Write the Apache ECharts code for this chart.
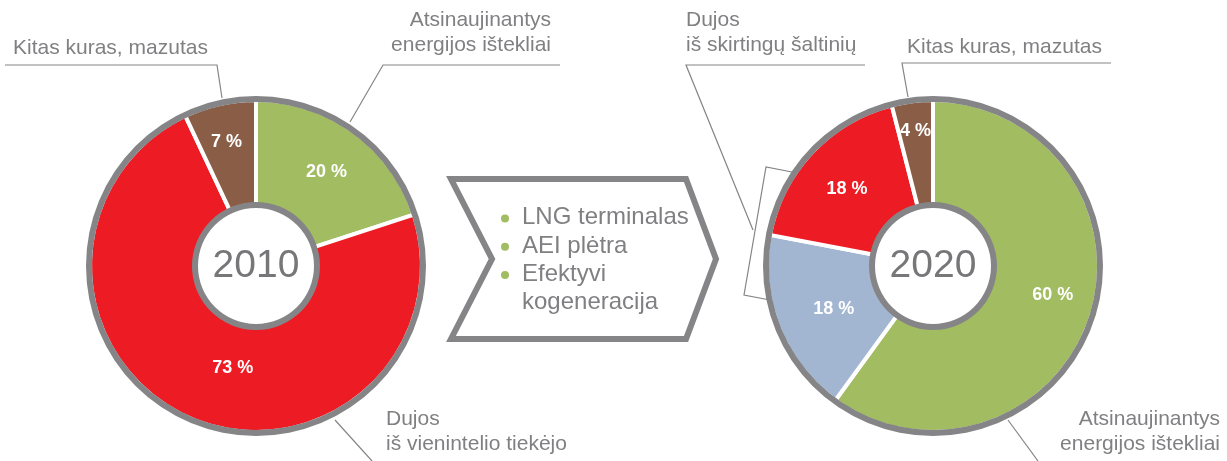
<!DOCTYPE html>
<html><head><meta charset="utf-8">
<script src="https://cdn.jsdelivr.net/npm/echarts@6/dist/echarts.min.js"></script>
<style>html,body{margin:0;padding:0;background:#fff}#c{width:1227px;height:461px}</style>
</head><body><div id="c"></div>
<script>
// ---- data ----
const categories2010 = ['Atsinaujinantys energijos ištekliai', 'Dujos iš vienintelio tiekėjo', 'Kitas kuras, mazutas'];
const values2010 = [20, 73, 7];
const categories2020 = ['Atsinaujinantys energijos ištekliai', 'Dujos (SGD)', 'Dujos iš skirtingų šaltinių', 'Kitas kuras, mazutas'];
const values2020 = [60, 18, 18, 4];
const years = ['2010', '2020'];
const measures = ['LNG terminalas', 'AEI plėtra', 'Efektyvi', 'kogeneracija'];
const calloutTexts = [
  ['Kitas kuras, mazutas'],
  ['Atsinaujinantys', 'energijos ištekliai'],
  ['Dujos', 'iš vienintelio tiekėjo'],
  ['Dujos', 'iš skirtingų šaltinių'],
  ['Kitas kuras, mazutas'],
  ['Atsinaujinantys', 'energijos ištekliai']
];

// ---- styles ----
const FONT = '"Liberation Sans", Arial, sans-serif';
const GRAY = '#858588';
const TEXT = '#808083';
const colorMap = {
  'Atsinaujinantys energijos ištekliai': '#a2bc62',
  'Dujos iš vienintelio tiekėjo': '#ed1c24',
  'Dujos (SGD)': '#a3b6d1',
  'Dujos iš skirtingų šaltinių': '#ed1c24',
  'Kitas kuras, mazutas': '#8a5e46'
};
// label nudges [dx, dy], index-matched to slices
const nudge2010 = [[2, 0], [23, -5], [-4, -10]];
const nudge2020 = [[9, -7], [9, 0], [-1, 3], [-3, -19]];

function donut(center, cats, vals, year, nudges) {
  return [
    {
      type: 'pie', center: center, radius: [61, 166], z: 2,
      startAngle: 90, clockwise: true, animation: false,
      emphasis: { disabled: true }, silent: true,
      itemStyle: { borderColor: '#fff', borderWidth: 4 },
      label: {
        show: true, position: 'inside', formatter: '{c} %',
        color: '#fff', fontFamily: FONT, fontWeight: 'bold', fontSize: 18
      },
      labelLine: { show: false },
      labelLayout: function (p) {
        const n = nudges[p.dataIndex] || [0, 0];
        return { dx: n[0], dy: n[1] };
      },
      data: cats.map((c, i) => ({ name: c, value: vals[i], itemStyle: { color: colorMap[c] } }))
    },
    {
      type: 'pie', center: center, radius: [164, 170], z: 3, silent: true,
      animation: false, emphasis: { disabled: true },
      label: { show: false }, labelLine: { show: false },
      itemStyle: { color: GRAY }, data: [{ value: 1, name: 'ring' }]
    },
    {
      type: 'pie', center: center, radius: [58, 64], z: 3, silent: true,
      animation: false, emphasis: { disabled: true },
      label: {
        show: true, position: 'center', formatter: year,
        color: '#77777a', fontFamily: FONT, fontSize: 39
      },
      labelLine: { show: false },
      itemStyle: { color: GRAY }, data: [{ value: 1, name: year }]
    }
  ];
}

const lineStyle = { stroke: GRAY, lineWidth: 1.2, fill: null };
const leaders = [
  [[5, 65], [217, 65], [222, 98]],
  [[560, 65], [383, 65], [350, 122]],
  [[335, 420], [372, 461]],
  [[865, 65], [686, 65], [753, 230]],
  [[792, 172], [766, 167], [744, 295], [770, 300]],
  [[1111, 63], [902, 63], [908, 97]],
  [[1008, 420], [1038, 461]]
];
// anchor x, first baseline y, align
const calloutPos = [
  [13, 56, 'left'], [551, 28, 'right'], [386, 427, 'left'],
  [686, 28, 'left'], [907, 55, 'left'], [1220, 427, 'right']
];
const CS = 21; // callout font size
const MS = 24; // measure font size

const graphics = [];
graphics.push({
  type: 'polygon', z: 1,
  shape: { points: [[451, 179], [686, 179], [716, 259], [686, 339], [451, 339], [492, 259]] },
  style: { fill: '#fff', stroke: GRAY, lineWidth: 6, lineJoin: 'miter' }
});
leaders.forEach(p => graphics.push({ type: 'polyline', z: 5, shape: { points: p }, style: lineStyle }));
calloutTexts.forEach((lines, i) => {
  const [x, y, align] = calloutPos[i];
  lines.forEach((t, j) => graphics.push({
    type: 'text', z: 5, x: x, y: y + j * 25 - 0.35 * CS,
    style: { text: t, font: CS + 'px ' + FONT, fill: TEXT, align: align, verticalAlign: 'middle' }
  }));
});
measures.forEach((t, i) => {
  const base = 226 + i * 28.3;
  graphics.push({
    type: 'text', z: 5, x: 522, y: base - 0.35 * MS,
    style: { text: t, font: MS + 'px ' + FONT, fill: TEXT, align: 'left', verticalAlign: 'middle' }
  });
  if (i < 3) graphics.push({
    type: 'circle', z: 5, shape: { cx: 505, cy: base - 7.5, r: 4 }, style: { fill: '#a2bc62' }
  });
});

const chart = echarts.init(document.getElementById('c'), null, { renderer: 'canvas' });
chart.setOption({
  backgroundColor: '#fff',
  animation: false,
  series: [].concat(
    donut([256, 266], categories2010, values2010, years[0], nudge2010),
    donut([933, 266], categories2020, values2020, years[1], nudge2020)
  ),
  graphic: graphics
});
</script></body></html>
